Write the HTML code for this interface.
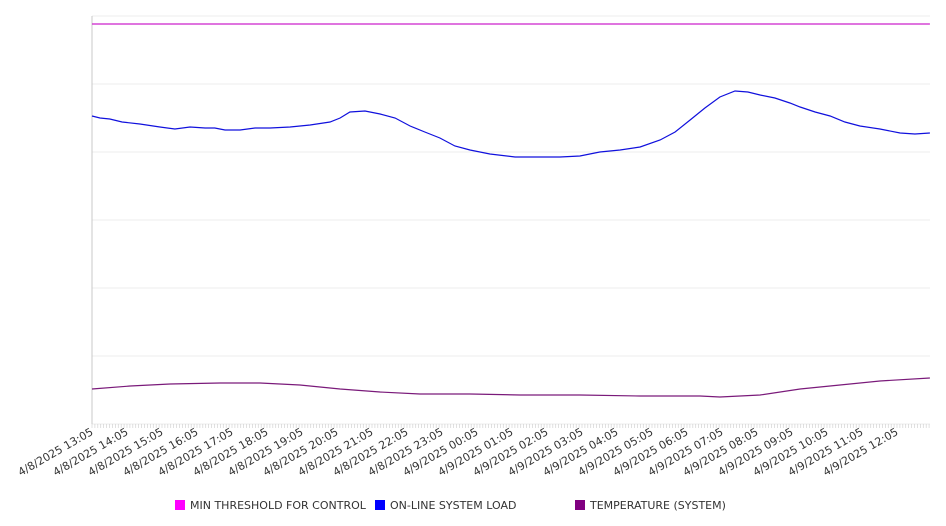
<!DOCTYPE html>
<html><head><meta charset="utf-8"><style>
body{margin:0;background:#fff;}
svg{display:block;font-family:"DejaVu Sans","Liberation Sans",sans-serif;}
</style></head><body>
<svg id="c" width="946" height="526"></svg>
<script>
const hourLabels=["4/8/2025 13:05","4/8/2025 14:05","4/8/2025 15:05","4/8/2025 16:05","4/8/2025 17:05","4/8/2025 18:05","4/8/2025 19:05","4/8/2025 20:05","4/8/2025 21:05","4/8/2025 22:05","4/8/2025 23:05","4/9/2025 00:05","4/9/2025 01:05","4/9/2025 02:05","4/9/2025 03:05","4/9/2025 04:05","4/9/2025 05:05","4/9/2025 06:05","4/9/2025 07:05","4/9/2025 08:05","4/9/2025 09:05","4/9/2025 10:05","4/9/2025 11:05","4/9/2025 12:05"];
const loadHours=[0,.23,.51,.86,1.37,1.94,2.37,2.8,3.23,3.51,3.8,4.23,4.66,5.09,5.66,6.23,6.8,7.09,7.37,7.8,8.23,8.66,9.09,9.51,9.94,10.37,10.8,11.37,12.09,12.8,13.37,13.94,14.51,15.09,15.66,16.23,16.66,17.09,17.51,17.94,18.37,18.74,19.09,19.51,19.94,20.23,20.66,21.09,21.51,21.94,22.51,23.09,23.51,23.94];
const loadValues=[308,306,305,302,300,297,295,297,296,296,294,294,296,296,297,299,302,306,312,313,310,306,298,292,286,278,274,270,267,267,267,268,272,274,277,284,292,304,316,327,333,332,329,326,321,317,312,308,302,298,295,291,290,291];
const tempHours=[0,1.09,2.23,3.66,4.8,5.94,7.09,8.23,9.37,10.8,12.23,13.94,15.66,17.37,17.94,19.09,20.23,21.37,22.51,23.94];
const tempValues=[35,38,40,41,41,39,35,32,30,30,29,29,28,28,27,29,35,39,43,46];
const thresholdHours=[0,23.94];
const thresholdValues=[400,400];
const yTicks=[0,68,136,204,272,340,408];

const NS="http://www.w3.org/2000/svg";
const svg=document.getElementById('c');
const L=92,R=930,T=16,B=424;
const x=h=>L+h*35;
const y=v=>B-(v/408)*(B-T);
function el(t,a,p){const e=document.createElementNS(NS,t);for(const k in a)e.setAttribute(k,a[k]);(p||svg).appendChild(e);return e;}

yTicks.forEach(v=>{const g=el('line',{x1:L,x2:R,y1:y(v),y2:y(v),stroke:'#ececec'});

});
const ax=el('line',{x1:L,x2:L,y1:T,y2:B,stroke:'#c8c8c8'});


for(let m=0;m<=1436;m+=5){const t=el('line',{x1:x(m/60),x2:x(m/60),y1:B,y2:B+4,stroke:'#ccc','stroke-width':0.6});

}
hourLabels.forEach((s,i)=>{const t=el('text',{x:x(i)+2,y:B+10,'font-size':11,fill:'#333','text-anchor':'end',transform:`rotate(-30 ${x(i)+2} ${B+10})`});t.textContent=s;

});

function line(hs,vs,c,name){const d=hs.map((h,i)=>(i?'L':'M')+x(h).toFixed(1)+' '+y(vs[i]).toFixed(1)).join(' ');
const p=el('path',{d,fill:'none',stroke:c,'stroke-width':1.2});

}
line(thresholdHours,thresholdValues,'#cc22cc','threshold-line');
line(loadHours,loadValues,'#1010dd','system-load-line');
line(tempHours,tempValues,'#7a1a7a','temperature-line');

const leg=[["MIN THRESHOLD FOR CONTROL","#ff00ff",175],["ON-LINE SYSTEM LOAD","#0000ff",375],["TEMPERATURE (SYSTEM)","#800080",575]];
leg.forEach(([s,c,lx])=>{const g=el('g',{});


el('rect',{x:lx,y:500,width:10,height:10,fill:c},g);
const t=el('text',{x:lx+15,y:509,'font-size':11,fill:'#333'},g);t.textContent=s;});
</script>
</body></html>
